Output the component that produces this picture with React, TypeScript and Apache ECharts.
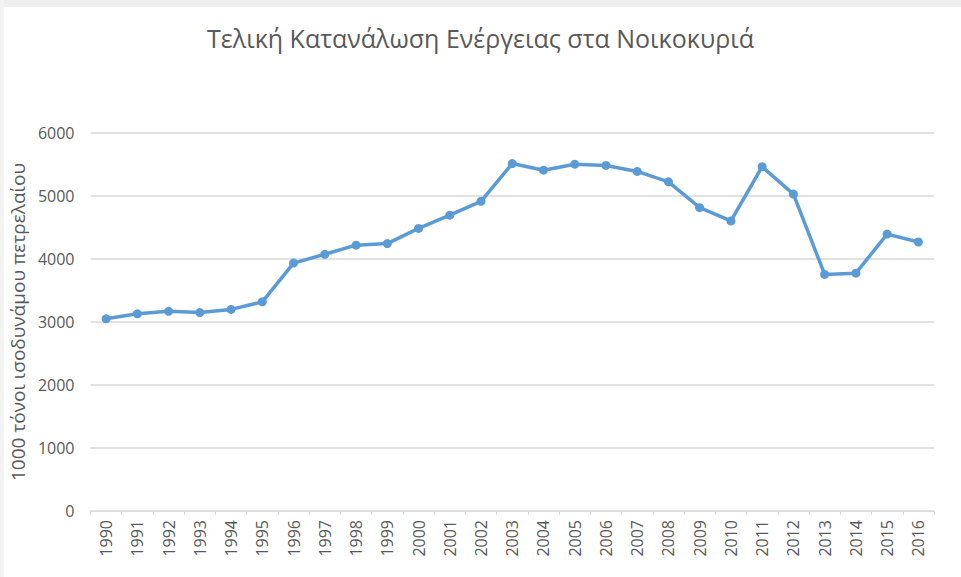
import React, { useEffect, useRef } from "react";
import * as echarts from "echarts";

const titleText = "Τελική Κατανάλωση Ενέργειας στα Νοικοκυριά";
const yAxisName = "1000 τόνοι ισοδυνάμου πετρελαίου";
const years = [
  "1990", "1991", "1992", "1993", "1994", "1995", "1996", "1997", "1998",
  "1999", "2000", "2001", "2002", "2003", "2004", "2005", "2006", "2007",
  "2008", "2009", "2010", "2011", "2012", "2013", "2014", "2015", "2016",
];
const consumption = [
  3050, 3130, 3170, 3150, 3200, 3320, 3935, 4075, 4220,
  4245, 4485, 4695, 4915, 5515, 5410, 5505, 5485, 5390,
  5225, 4815, 4605, 5465, 5030, 3755, 3775, 4395, 4270,
];
const yMin = 0;
const yMax = 6000;
const yInterval = 1000;

export default function App() {
  const ref = useRef<HTMLDivElement>(null);
  useEffect(() => {
    if (!ref.current) return;
    const chart = echarts.init(ref.current, null, { renderer: "svg" });
    const font = "'Open Sans', 'Noto Sans', sans-serif";
    chart.setOption({
      animation: false,
      backgroundColor: "#ffffff",
      textStyle: { fontFamily: font },
      title: {
        text: titleText,
        left: "center",
        top: 20,
        textStyle: { fontSize: 25, fontWeight: "normal", color: "#595959", fontFamily: font },
      },
      graphic: [
        { type: "rect", left: 0, top: 0, shape: { width: 961, height: 7 }, style: { fill: "#efefef" } },
        { type: "rect", left: 0, top: 0, shape: { width: 4, height: 577 }, style: { fill: "#f3f3f3" } },
      ],
      grid: { left: 83, right: 27, top: 133, bottom: 66 },
      xAxis: {
        type: "category",
        data: years,
        boundaryGap: true,
        axisLine: { lineStyle: { color: "#d9d9d9", width: 1 } },
        axisTick: { show: true, length: 4, lineStyle: { color: "#d9d9d9" } },
        axisLabel: { rotate: 90, fontSize: 16, color: "#595959", margin: 9, interval: 0 },
      },
      yAxis: {
        type: "value",
        min: yMin,
        max: yMax,
        interval: yInterval,
        name: yAxisName,
        nameLocation: "middle",
        nameGap: 58,
        nameTextStyle: { fontSize: 19, color: "#595959" },
        axisLine: { show: false },
        axisTick: { show: false },
        axisLabel: {
          fontSize: 16,
          color: "#595959",
          margin: 16,
          formatter: (v: number) => String(v),
        },
        splitLine: { lineStyle: { color: "#d9d9d9", width: 1.5 } },
      },
      series: [
        {
          type: "line",
          data: consumption,
          symbol: "circle",
          symbolSize: 9,
          lineStyle: { color: "#5b9bd5", width: 3.5 },
          itemStyle: { color: "#5b9bd5" },
        },
      ],
    });
    return () => chart.dispose();
  }, []);
  return (
    <div
      ref={ref}
      style={{ position: "fixed", left: 0, top: 0, width: 961, height: 577 }}
    />
  );
}
